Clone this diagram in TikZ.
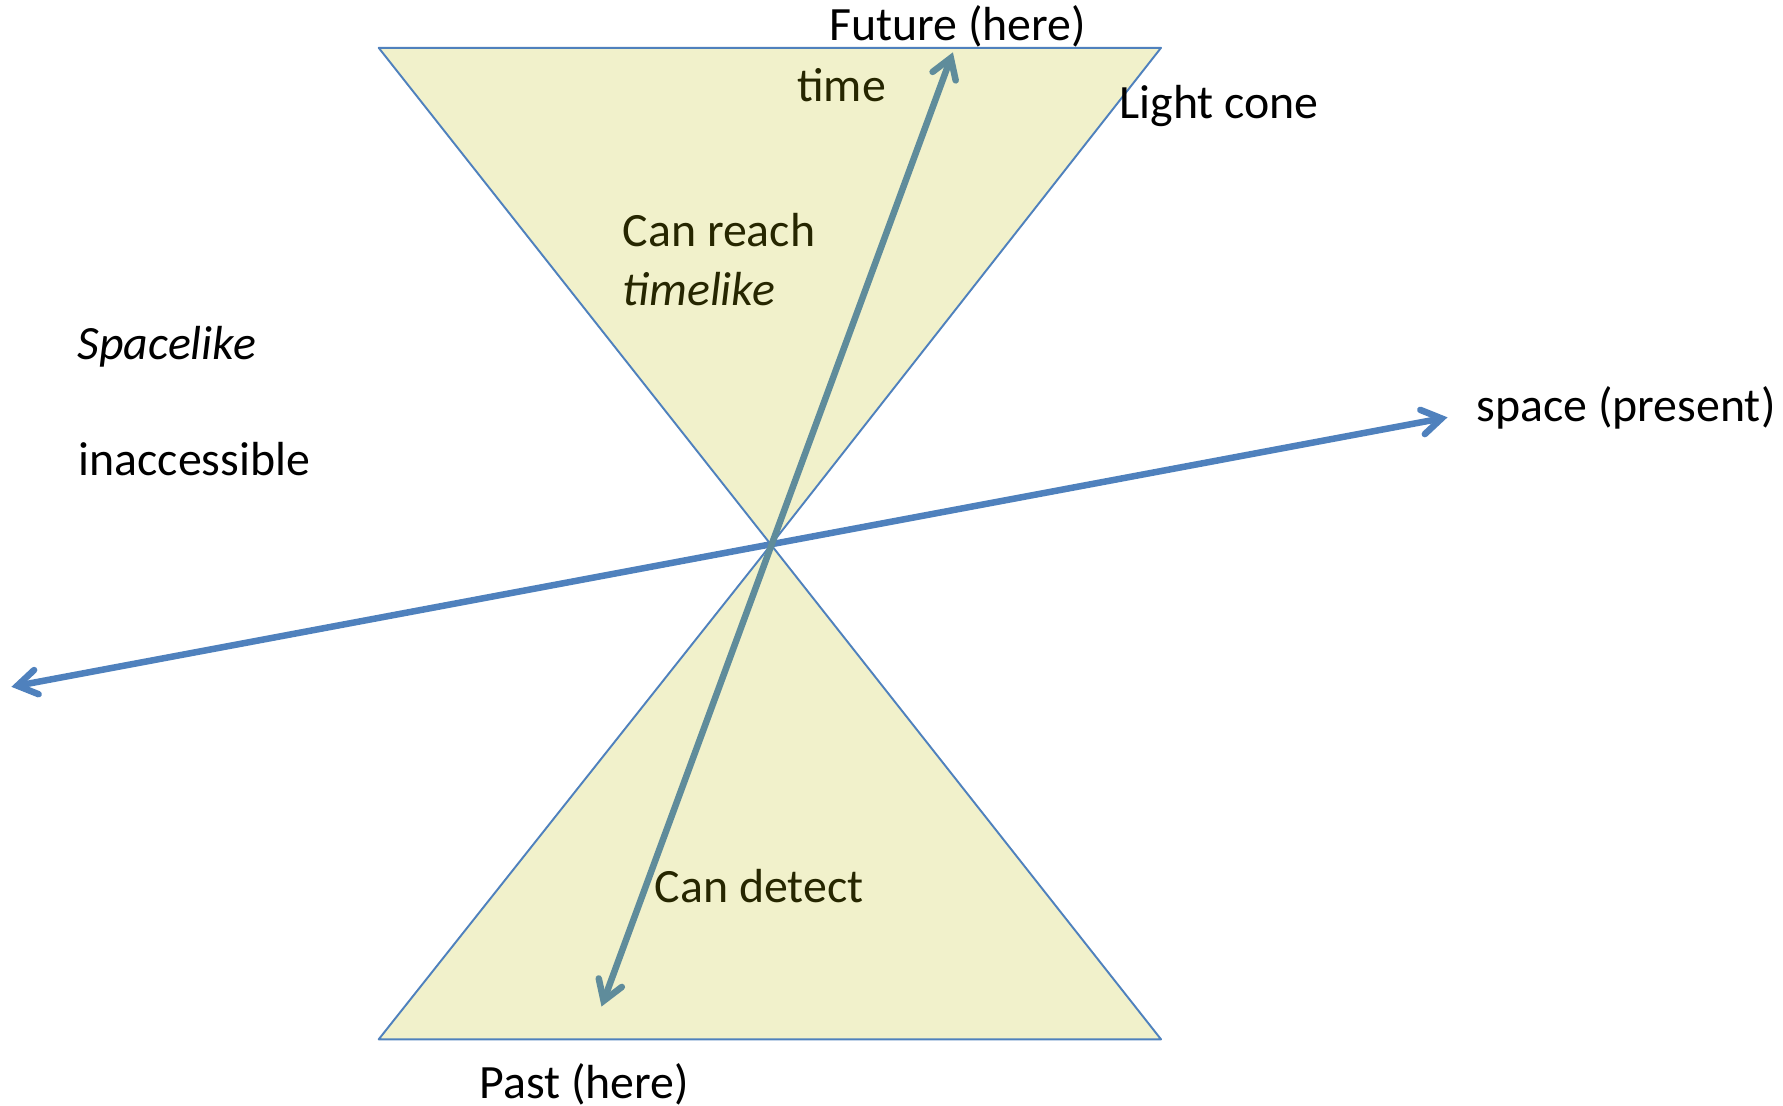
\documentclass[tikz,border=0pt]{standalone}
\usepackage{fontspec}
\setmainfont{Carlito}
\usetikzlibrary{arrows.meta,positioning}

\definecolor{conefill}{RGB}{241,241,203}
\definecolor{coneedge}{RGB}{79,129,189}
\definecolor{timeline}{RGB}{95,140,155}
\definecolor{innertext}{RGB}{38,38,0}

\begin{document}
\begin{tikzpicture}[
      x=0.01cm,y=-0.01cm,
      every node/.style={font=\fontsize{13.6}{16}\selectfont,inner sep=0pt},
      >={Straight Barb[length=5.5pt,width=7pt,line cap=round]},
      cone/.style={fill=conefill,draw=coneedge,line width=0.55pt,line join=round},
      spaceaxis/.style={draw=coneedge,line width=1.85pt,line cap=round,<->},
      timeaxis/.style={draw=timeline,line width=1.85pt,line cap=round,<->},
      inner/.style={text=innertext,anchor=base west},
      outer/.style={text=black,anchor=base west},
    ]
      \useasboundingbox (0,0) rectangle (1783,1105);
      % cone corners
      \coordinate (here) at (771,544.7);
      \coordinate (ftl) at (378.7,47.8);
      \coordinate (ftr) at (1161,47.8);
      \coordinate (pbl) at (378.7,1039.3);
      \coordinate (pbr) at (1161,1039.3);
      \draw[cone] (ftl)--(ftr)--(here)--cycle;
      \draw[cone] (pbl)--(pbr)--(here)--cycle;
      % axes
      \coordinate (spaceL) at (11.4,686.8);
      \coordinate (spaceR) at (1447.5,417.3);
      \coordinate (past)   at (601.5,1006.5);
      \coordinate (future) at (952.9,52.3);
      \draw[spaceaxis] (spaceL)--(spaceR);
      \draw[timeaxis] (past)--(future);
      % labels
      \node[anchor=base] (futlbl) at (957.5,40) {Future (here)};
      \node[inner,anchor=base] (timelbl) at (841.5,101) {time};
      \node[outer] (conelbl) at (1119,118) {Light cone};
      \node[inner] (reach) at (622,246) {Can reach};
      \node[inner] (tlike) at (622,305) {\itshape timelike};
      \node[outer] (slike) at (77,359) {\itshape Spacelike};
      \node[outer] (inacc) at (78,475) {inaccessible};
      \node[outer] (spacelbl) at (1476,421.5) {space (present)};
      \node[inner] (detect) at (654,902) {Can detect};
      \node[outer] (pastlbl) at (479,1098) {Past (here)};
    \end{tikzpicture}
\end{document}
